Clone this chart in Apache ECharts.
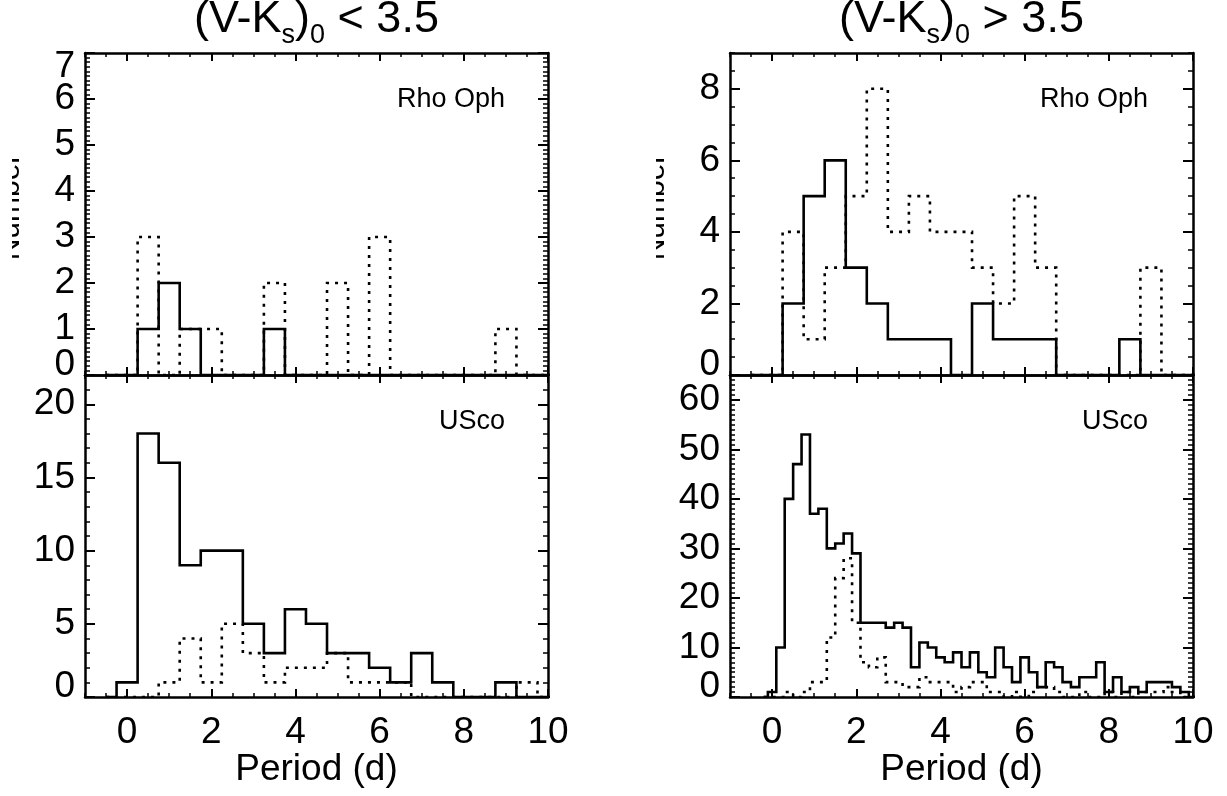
<!DOCTYPE html>
<html>
<head>
<meta charset="utf-8">
<script src="https://cdn.jsdelivr.net/npm/echarts@6/dist/echarts.min.js"></script>
<style>
html,body{margin:0;padding:0;background:#fff;}
#chart{width:1227px;height:796px;}
</style>
</head>
<body>
<div id="chart"></div>
<script>
// ---------- data ----------
// bin centres (d) for the 0.5-d histograms
const binCenters05 = [-0.5,0,0.5,1,1.5,2,2.5,3,3.5,4,4.5,5,5.5,6,6.5,7,7.5,8,8.5,9,9.5,10,10.5];
// bin centres (d) for the 0.2-d histogram (USco, V-Ks > 3.5)
const binCenters02 = [-0.2,0,0.2,0.4,0.6,0.8,1,1.2,1.4,1.6,1.8,2,2.2,2.4,2.6,2.8,3,3.2,3.4,3.6,3.8,4,4.2,4.4,4.6,4.8,5,5.2,5.4,5.6,5.8,6,6.2,6.4,6.6,6.8,7,7.2,7.4,7.6,7.8,8,8.2,8.4,8.6,8.8,9,9.2,9.4,9.6,9.8,10,10.2];

// (V-Ks)0 < 3.5
const rhoOphBlueSolid  = [0,0,1,2,1,0,0,0,1,0,0,0,0,0,0,0,0,0,0,0,0,0,0];
const rhoOphBlueDotted = [0,0,3,0,1,1,0,0,2,0,0,2,0,3,0,0,0,0,0,1,0,0,0];
const uscoBlueSolid    = [0,1,18,16,9,10,10,5,3,6,5,3,3,2,1,3,1,0,0,1,0,0,0];
const uscoBlueDotted   = [0,0,0,1,4,1,5,3,1,2,2,3,1,1,1,0,0,0,0,0,1,0,0];

// (V-Ks)0 > 3.5
const rhoOphRedSolid   = [0,0,2,5,6,3,2,1,1,1,0,2,1,1,1,0,0,0,1,0,0,0,0];
const rhoOphRedDotted  = [0,0,4,1,3,5,8,4,5,4,4,3,2,5,3,0,0,0,0,3,0,0,0];
const uscoRedSolid     = [0,1,10,40,47,53,37, 38,30,31,33,29, 15,15,15,14,15, 14,6,11,10,8, 7,9,6,9,5, 4,10,6,3,8, 5,2,7,6,3, 2,4,4,7,1, 4,1,2,1,3, 3,3,2,1,0, 0];
const uscoRedDotted    = [0,0,0,1,0,1,3, 3,12,24,28,15, 7,6,8,3,3, 2,2,4,3,3, 3,1,2,3,3, 1,1,0,1,0, 1,2,2,1,0, 0,1,0,0,1, 0,1,0,1,1, 1,2,1,0,0, 0];

// tick labels
const periodTicks = [0,2,4,6,8,10];
const rhoOphBlueTicks = [0,1,2,3,4,5,6,7];
const uscoBlueTicks   = [0,5,10,15,20];
const rhoOphRedTicks  = [0,2,4,6,8];
const uscoRedTicks    = [0,10,20,30,40,50,60];

const panelTitles = ['(V-K', 's', ')', '0'];
const xTitle = 'Period (d)';
const yTitle = 'Number';

// ---------- layout / style ----------
const FONT = '"Liberation Sans", Arial, Helvetica, sans-serif';
const GW = 463, GH = 322;
const grids = [
  {left: 85,  top: 53,  width: GW, height: GH},
  {left: 85,  top: 375, width: GW, height: GH},
  {left: 730, top: 53,  width: GW, height: GH},
  {left: 730, top: 375, width: GW, height: GH}
];

const panels = [
  {yMax: 7,  yTicks: rhoOphBlueTicks, yMinor: 0.1, xLabels: false, shiftMax: true,
   solid: rhoOphBlueSolid, dotted: rhoOphBlueDotted, centers: binCenters05, tag: 'Rho Oph'},
  {yMax: 22, yTicks: uscoBlueTicks, yMinor: 1, xLabels: true, shiftMax: false,
   solid: uscoBlueSolid, dotted: uscoBlueDotted, centers: binCenters05, tag: 'USco'},
  {yMax: 9,  yTicks: rhoOphRedTicks, yMinor: 0.5, xLabels: false, shiftMax: false,
   solid: rhoOphRedSolid, dotted: rhoOphRedDotted, centers: binCenters05, tag: 'Rho Oph'},
  {yMax: 65, yTicks: uscoRedTicks, yMinor: 1, xLabels: true, shiftMax: false,
   solid: uscoRedSolid, dotted: uscoRedDotted, centers: binCenters02, tag: 'USco'}
];

const BLACK = '#000';
const labelBase = {fontSize: 37, fontFamily: FONT, color: BLACK};

const xAxes = [], yAxes = [], series = [];
let yIdx = 0;

panels.forEach((p, gi) => {
  const xb = {gridIndex: gi, type: 'value', min: -1, max: 10, splitLine: {show: false}, silent: true};
  // bottom major
  xAxes.push(Object.assign({}, xb, {
    position: 'bottom',
    axisLine: {show: true, onZero: false, lineStyle: {color: BLACK, width: 2.5}},
    axisTick: {show: true, inside: true, length: 8, customValues: periodTicks, lineStyle: {color: BLACK, width: 2}},
    axisLabel: Object.assign({show: p.xLabels, customValues: periodTicks, margin: 17,
      showMinLabel: true, showMaxLabel: true}, labelBase),
    name: p.xLabels ? xTitle : '',
    nameLocation: 'middle', nameGap: 54, nameMoveOverlap: false,
    nameTextStyle: {fontSize: 37, fontFamily: FONT, color: BLACK}
  }));
  // bottom minor
  xAxes.push(Object.assign({}, xb, {
    position: 'bottom', interval: 0.5,
    axisLine: {show: false, onZero: false},
    axisTick: {show: true, inside: true, length: 4, lineStyle: {color: BLACK, width: 1.5}},
    axisLabel: {show: false}
  }));
  // top major
  xAxes.push(Object.assign({}, xb, {
    position: 'top',
    axisLine: {show: true, onZero: false, lineStyle: {color: BLACK, width: 2.5}},
    axisTick: {show: true, inside: true, length: 8, customValues: periodTicks, lineStyle: {color: BLACK, width: 2}},
    axisLabel: {show: false}
  }));
  // top minor
  xAxes.push(Object.assign({}, xb, {
    position: 'top', interval: 0.5,
    axisLine: {show: false, onZero: false},
    axisTick: {show: true, inside: true, length: 4, lineStyle: {color: BLACK, width: 1.5}},
    axisLabel: {show: false}
  }));

  const yb = {gridIndex: gi, type: 'value', min: 0, max: p.yMax, splitLine: {show: false}, silent: true};
  const majorStep = p.yTicks[1] - p.yTicks[0];
  const edgeLabels = p.yTicks.filter(v => v === 0 || (p.shiftMax && v === p.yMax));
  const innerLabels = p.yTicks.filter(v => edgeLabels.indexOf(v) < 0);
  const mainY = yIdx;
  // left major (ticks + inner labels)
  yAxes.push(Object.assign({}, yb, {
    position: 'left', interval: majorStep,
    axisLine: {show: true, onZero: false, lineStyle: {color: BLACK, width: 2.5}},
    axisTick: {show: true, inside: true, length: 10, customValues: p.yTicks, lineStyle: {color: BLACK, width: 2}},
    axisLabel: Object.assign({show: true, customValues: innerLabels, margin: 10,
      showMinLabel: true, showMaxLabel: true}, labelBase)
  }));
  // left edge labels (0 and, where it sits on the frame, the top value), nudged inwards
  yAxes.push(Object.assign({}, yb, {
    position: 'left', interval: majorStep,
    axisLine: {show: false, onZero: false},
    axisTick: {show: false},
    axisLabel: Object.assign({
      show: true, customValues: edgeLabels, margin: 10,
      showMinLabel: true, showMaxLabel: true,
      formatter: function (v) { return v === 0 ? '{lo|0}' : '{hi|' + v + '}'; },
      rich: {
        lo: {fontSize: 37, fontFamily: FONT, color: BLACK, padding: [0, 0, 20, 0]},
        hi: {fontSize: 37, fontFamily: FONT, color: BLACK, padding: [28, 0, 0, 0]}
      }
    }, labelBase)
  }));
  // left minor
  yAxes.push(Object.assign({}, yb, {
    position: 'left', interval: p.yMinor,
    axisLine: {show: false, onZero: false},
    axisTick: {show: true, inside: true, length: 5, lineStyle: {color: BLACK, width: 1.5}},
    axisLabel: {show: false}
  }));
  // right major
  yAxes.push(Object.assign({}, yb, {
    position: 'right', interval: majorStep,
    axisLine: {show: true, onZero: false, lineStyle: {color: BLACK, width: 2.5}},
    axisTick: {show: true, inside: true, length: 10, customValues: p.yTicks, lineStyle: {color: BLACK, width: 2}},
    axisLabel: {show: false}
  }));
  // right minor
  yAxes.push(Object.assign({}, yb, {
    position: 'right', interval: p.yMinor,
    axisLine: {show: false, onZero: false},
    axisTick: {show: true, inside: true, length: 5, lineStyle: {color: BLACK, width: 1.5}},
    axisLabel: {show: false}
  }));
  yIdx += 5;

  const mk = (counts, dotted) => ({
    type: 'line', xAxisIndex: gi * 4, yAxisIndex: mainY,
    step: 'middle', symbol: 'none', silent: true, clip: true,
    data: p.centers.map((c, i) => [c, counts[i]]),
    lineStyle: {color: BLACK, width: 2.6, type: dotted ? [3, 6] : 'solid', cap: 'butt', join: 'miter'},
    z: dotted ? 3 : 4
  });
  series.push(mk(p.dotted, true));
  series.push(mk(p.solid, false));
});

// ---------- text elements ----------
const titleRich = {
  m: {fontSize: 45, fontFamily: FONT, fill: BLACK, lineHeight: 58, verticalAlign: 'middle'},
  s: {fontSize: 27, fontFamily: FONT, fill: BLACK, lineHeight: 27, verticalAlign: 'bottom'}
};
function titleText(cx, rel) {
  return {
    type: 'text', x: cx, y: 20, z: 10, silent: true,
    style: {
      text: '{m|' + panelTitles[0] + '}{s|' + panelTitles[1] + '}{m|' + panelTitles[2] + '}{s|' + panelTitles[3] + '}{m| ' + rel + ' 3.5}',
      rich: titleRich, align: 'center', verticalAlign: 'middle', fill: BLACK
    }
  };
}
function tagText(x, y, t) {
  return {type: 'text', x: x, y: y, z: 10, silent: true,
    style: {text: t, fontSize: 27, fontFamily: FONT, fill: BLACK, align: 'right', verticalAlign: 'middle'}};
}
function yName(x, y) {
  return {type: 'text', x: x, y: y, rotation: Math.PI / 2, z: 5, silent: true,
    style: {text: yTitle, fontSize: 30, fontFamily: FONT, fill: BLACK, align: 'center', verticalAlign: 'middle'}};
}

const graphic = [
  titleText(85 + GW / 2, '<'),
  titleText(730 + GW / 2, '>'),
  tagText(85 + GW - 43, 53 + 46.5, panels[0].tag),
  tagText(85 + GW - 43, 375 + 46.7, panels[1].tag),
  tagText(730 + GW - 45, 53 + 46.5, panels[2].tag),
  tagText(730 + GW - 45, 375 + 46.7, panels[3].tag),
  yName(10.6, 207),
  yName(655.6, 207),
  {type: 'rect', z: 20, silent: true, shape: {x: 0, y: 140, width: 12, height: 140}, style: {fill: '#fff'}},
  {type: 'rect', z: 20, silent: true, shape: {x: 636, y: 140, width: 20, height: 140}, style: {fill: '#fff'}}
];

const chart = echarts.init(document.getElementById('chart'), null, {renderer: 'canvas', width: 1227, height: 796});
chart.setOption({
  animation: false,
  backgroundColor: '#fff',
  grid: grids.map(g => Object.assign({containLabel: false, outerBoundsMode: 'none'}, g)),
  xAxis: xAxes,
  yAxis: yAxes,
  series: series,
  graphic: graphic
});
</script>
</body>
</html>
